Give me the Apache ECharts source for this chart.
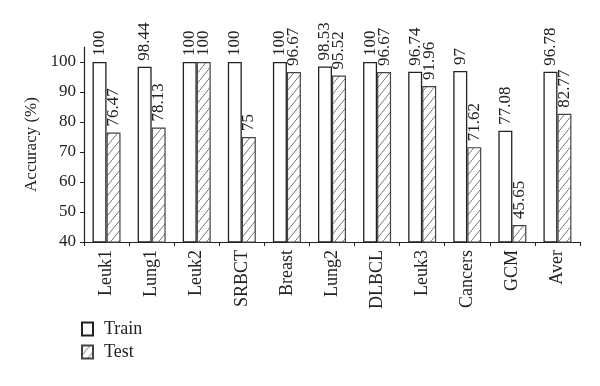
<!DOCTYPE html>
<html>
<head>
<meta charset="utf-8">
<script src="https://cdn.jsdelivr.net/npm/echarts@6/dist/echarts.min.js"></script>
<style>html,body{margin:0;padding:0;background:#fff;}#c{width:600px;height:386px;}</style>
</head>
<body>
<div id="c"></div>
<script>
var categories = ['Leuk1','Lung1','Leuk2','SRBCT','Breast','Lung2','DLBCL','Leuk3','Cancers','GCM','Aver'];
var trainValues = [100, 98.44, 100, 100, 100, 98.53, 100, 96.74, 97, 77.08, 96.78];
var testValues = [76.47, 78.13, 100, 75, 96.67, 95.52, 96.67, 91.96, 71.62, 45.65, 82.77];
var yTicks = [40, 50, 60, 70, 80, 90, 100];

function hatch() {
  var c = document.createElement('canvas');
  c.width = 8; c.height = 10;
  var g = c.getContext('2d');
  g.fillStyle = '#fff';
  g.fillRect(0, 0, 8, 10);
  g.strokeStyle = '#777';
  g.lineWidth = 1;
  g.beginPath();
  g.moveTo(-1, 11.25); g.lineTo(9, -1.25);
  g.stroke();
  return c;
}
var pat = {image: hatch(), repeat: 'repeat'};
var font = 'Liberation Serif';
var chart = echarts.init(document.getElementById('c'));
var labelCfg = {
  show: true, position: 'top', rotate: 90, align: 'left', verticalAlign: 'middle',
  distance: 6, fontFamily: font, fontSize: 17, color: '#222'
};
chart.setOption({
  backgroundColor: '#fff',
  animation: false,
  textStyle: {fontFamily: font},
  grid: {left: 84, right: 20, top: 47, bottom: 144, containLabel: false},
  legend: {
    orient: 'vertical', left: 81, top: 320, padding: 0, itemWidth: 11, itemHeight: 13, itemGap: 5,
    icon: 'rect',
    textStyle: {fontFamily: font, fontSize: 18, color: '#222', padding: [0, 0, 0, 6]},
    data: ['Train', 'Test']
  },
  xAxis: {
    type: 'category', data: categories,
    axisLine: {lineStyle: {color: '#222', width: 1.2}},
    axisTick: {show: true, length: 4, lineStyle: {color: '#222'}},
    axisLabel: {rotate: 90, margin: 8, fontFamily: font, fontSize: 18, color: '#222'}
  },
  yAxis: {
    type: 'value', min: 40, max: 105, interval: 10,
    name: 'Accuracy (%)', nameLocation: 'middle', nameRotate: 90, nameGap: 44,
    nameTextStyle: {fontFamily: font, fontSize: 17, color: '#222'},
    splitLine: {show: false},
    axisLine: {show: true, lineStyle: {color: '#222', width: 1.2}},
    axisTick: {show: true, length: 4, lineStyle: {color: '#222'}, customValues: yTicks},
    axisLabel: {fontFamily: font, fontSize: 17, color: '#222', margin: 8, customValues: yTicks}
  },
  series: [
    {
      name: 'Train', type: 'bar', data: trainValues, barWidth: 14, barGap: '0%',
      itemStyle: {color: '#fff', borderColor: '#222', borderWidth: 1.3},
      label: labelCfg
    },
    {
      name: 'Test', type: 'bar', data: testValues, barWidth: 14,
      itemStyle: {color: pat, borderColor: '#444', borderWidth: 1.2},
      label: labelCfg
    }
  ]
});
</script>
</body>
</html>
